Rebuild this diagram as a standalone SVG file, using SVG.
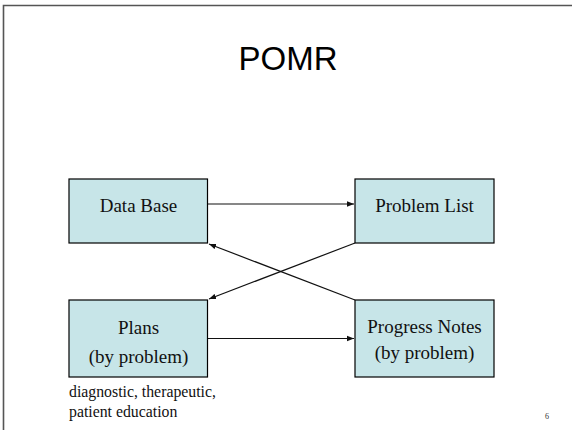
<svg xmlns="http://www.w3.org/2000/svg" width="572" height="430" viewBox="0 0 572 430">
  <style>
    .box { fill: #c7e5e8; stroke: #000; stroke-width: 1.2; }
    .lbl { font-family: "Liberation Serif", "Times New Roman", serif; font-size: 19px; fill: #111; text-anchor: middle; }
    .note { font-family: "Liberation Serif", "Times New Roman", serif; font-size: 15.8px; fill: #111; }
    .edge { stroke: #111; stroke-width: 1.2; fill: none; marker-end: url(#arrow); }
  </style>
  <defs>
    <marker id="arrow" viewBox="0 0 10 10" refX="10" refY="5" markerWidth="7" markerHeight="7" markerUnits="userSpaceOnUse" orient="auto">
      <path d="M0,1 L10,5 L0,9 z" fill="#111"/>
    </marker>
  </defs>

  <rect x="0" y="0" width="572" height="430" fill="#fff"/>
  <!-- slide frame -->
  <path d="M3.5,430 V5.5 H572" fill="none" stroke="#555" stroke-width="1.6"/>

  <text x="288" y="69.5" font-family="Liberation Sans, Arial, sans-serif" font-size="33" fill="#000" text-anchor="middle">POMR</text>

  <g id="connectors">
    <line class="edge" x1="208" y1="204" x2="354" y2="204"/>
    <line class="edge" x1="208" y1="338.5" x2="354" y2="338.5"/>
    <line class="edge" x1="355" y1="243" x2="209" y2="299"/>
    <line class="edge" x1="355" y1="300" x2="209" y2="244"/>
  </g>

  <g id="data-base">
    <rect class="box" x="69" y="179" width="138.5" height="64"/>
    <text class="lbl" x="138.5" y="212">Data Base</text>
  </g>

  <g id="problem-list">
    <rect class="box" x="355" y="179" width="139" height="64"/>
    <text class="lbl" x="424.5" y="212">Problem List</text>
  </g>

  <g id="plans">
    <rect class="box" x="69" y="300" width="138.5" height="77"/>
    <text class="lbl" x="138.5" y="334">Plans</text>
    <text class="lbl" x="138.5" y="362.5">(by problem)</text>
  </g>

  <g id="progress-notes">
    <rect class="box" x="355" y="300" width="139" height="77"/>
    <text class="lbl" x="424.5" y="333">Progress Notes</text>
    <text class="lbl" x="424.5" y="359">(by problem)</text>
  </g>

  <g id="plans-note">
    <text class="note" x="69" y="397">diagnostic, therapeutic,</text>
    <text class="note" x="69" y="417">patient education</text>
  </g>

  <text x="547" y="419" font-family="Liberation Serif, serif" font-size="8" fill="#333" text-anchor="middle">6</text>
</svg>
